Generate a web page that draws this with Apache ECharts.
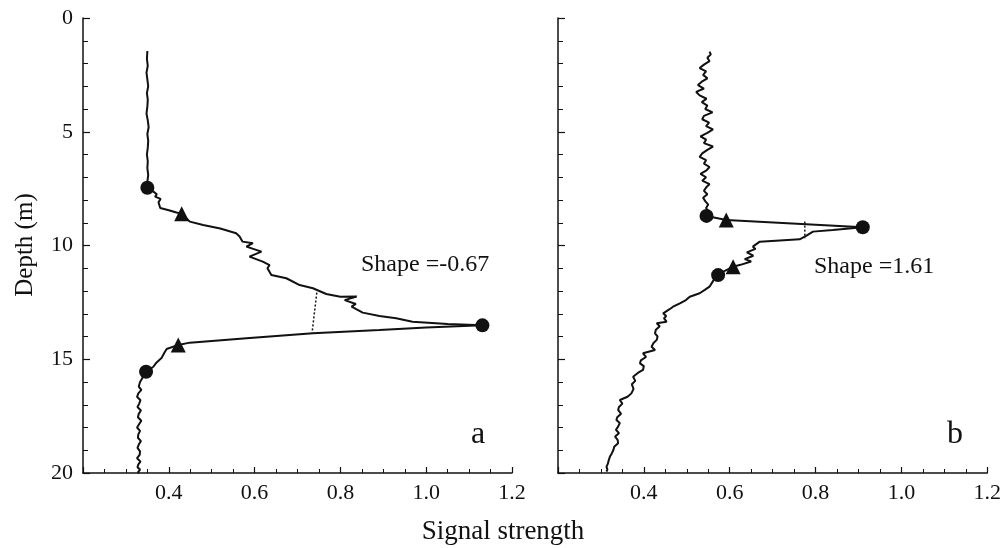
<!DOCTYPE html>
<html>
<head>
<meta charset="utf-8">
<script src="https://cdn.jsdelivr.net/npm/echarts@6/dist/echarts.min.js"></script>
<style>
html,body{margin:0;padding:0;background:#fff;}
#chart{width:1004px;height:548px;}
</style>
</head>
<body>
<div id="chart"></div>
<script>
// ---------- data ----------
var xTicks = [0.4, 0.6, 0.8, 1.0, 1.2];
var yTicks = [0, 5, 10, 15, 20];

// Panel a profile (signal strength vs depth)
var aSignal = [.350,.349,.351,.348,.350,.352,.349,.351,.350,.348,.351,.353,.350,.352,.351,.349,.351,.350,.352,.350,.350,
  .362,.372,.368,.381,.376,.380,.400,.418,.430,.449,.480,.520,.557,.565,.572,.596,.581,.616,.588,.619,.635,.630,.639,.674,.705,.736,.767,.800,.838,.810,.836,.826,.852,.891,.930,.968,1.050,1.131,
  1.000,.891,.736,.581,.449,.422,.395,.390,.383,.371,.364,.347,
  .333,.330,.336,.329,.326,.334,.331,.327,.335,.330,.328,.336,.331,.326,.333,.329,.328,.335,.330,.327,.333,.332,.326,.334,.329,.327,.333,.330,.328,.331,.330];
var aDepth = [1.45,1.8,2.1,2.4,2.7,3.0,3.3,3.6,3.9,4.2,4.5,4.8,5.1,5.4,5.7,6.0,6.3,6.6,6.9,7.2,7.46,
  7.6,7.75,7.85,7.95,8.1,8.35,8.45,8.55,8.6,8.95,9.1,9.25,9.46,9.6,9.83,9.9,10.05,10.27,10.49,10.71,10.86,11.0,11.3,11.44,11.74,11.88,12.13,12.25,12.24,12.4,12.57,12.69,12.95,13.1,13.2,13.35,13.45,13.51,
  13.6,13.71,13.86,14.08,14.27,14.37,14.55,14.7,14.95,15.15,15.33,15.55,
  16.0,16.2,16.35,16.5,16.65,16.8,16.95,17.1,17.25,17.4,17.55,17.7,17.85,18.0,18.15,18.3,18.45,18.6,18.75,18.9,19.05,19.2,19.35,19.5,19.62,19.75,19.85,19.92,19.97,20.0];

// Panel b profile
var bSignal = [.553,.556,.548,.553,.540,.530,.545,.538,.548,.535,.526,.540,.522,.530,.546,.535,.548,.543,.560,.540,.536,.552,.545,.561,.548,.532,.545,.540,.561,.548,.536,.530,.545,.540,.553,.546,.532,.545,.536,.553,.545,.540,.548,.538,.543,.550,.545,.550,.546,
  .592,.910,
  .840,.794,.778,.763,.670,.654,.660,.640,.655,.635,.650,.625,.608,.590,
  .573,.565,.560,.553,.542,.530,.507,.498,.484,.468,.460,.445,.452,.447,.453,.430,.437,.428,.426,.432,.430,.422,.418,.426,.398,.405,.393,.391,.400,.398,.386,.375,.380,.372,.376,.371,.362,.344,.350,.342,.340,.347,.338,.336,.344,.340,.335,.342,.333,.339,.340,.331,.329,.325,.321,.318,.316,.313,.315,.313];
var bDepth = [1.48,1.6,1.75,1.9,2.05,2.2,2.35,2.5,2.65,2.8,2.95,3.1,3.25,3.4,3.55,3.7,3.85,4.0,4.15,4.3,4.45,4.6,4.75,4.9,5.05,5.2,5.35,5.5,5.65,5.8,5.95,6.1,6.25,6.4,6.55,6.7,6.85,7.0,7.15,7.3,7.45,7.6,7.75,7.9,8.05,8.2,8.35,8.5,8.7,
  8.88,9.2,
  9.32,9.39,9.58,9.73,9.83,10.05,10.15,10.3,10.45,10.6,10.7,10.85,10.93,11.1,
  11.3,11.45,11.6,11.81,11.95,12.1,12.25,12.4,12.54,12.69,12.8,12.98,13.1,13.2,13.35,13.42,13.55,13.7,13.86,14.0,14.15,14.3,14.45,14.59,14.74,14.9,15.05,15.18,15.3,15.47,15.6,15.77,15.95,16.1,16.3,16.5,16.65,16.79,16.95,17.1,17.23,17.4,17.55,17.67,17.8,17.96,18.1,18.25,18.4,18.55,18.69,18.85,18.99,19.15,19.28,19.45,19.6,19.72,19.85,19.94];

// Marker points
var aCircleSignal = [.350, 1.131, .347];
var aCircleDepth  = [7.46, 13.51, 15.55];
var aTriSignal    = [.430, .422];
var aTriDepth     = [8.6, 14.37];
var bCircleSignal = [.546, .910, .573];
var bCircleDepth  = [8.70, 9.20, 11.30];
var bTriSignal    = [.592, .608];
var bTriDepth     = [8.88, 10.93];

// Dotted connectors
var aDotSignal = [.745, .734];
var aDotDepth  = [12.07, 13.83];
var bDotSignal = [.775, .775];
var bDotDepth  = [8.95, 9.68];

var shapeA = 'Shape =-0.67';
var shapeB = 'Shape =1.61';

// ---------- build ----------
function pairs(xs, ys){ return xs.map(function(v,i){ return [v, ys[i]]; }); }

var FONT = "'Liberation Serif', 'Times New Roman', serif";
var INK = '#111';

function xAxisDef(idx){
  return {
    type:'value', gridIndex: idx, min:0.2, max:1.2, interval:0.2, position:'bottom',
    axisLine:{show:true, onZero:false, lineStyle:{color:INK, width:1.5}},
    axisTick:{show:true, inside:true, length:6, lineStyle:{color:INK, width:1.2}},
    minorTick:{show:true, splitNumber:4, length:4, lineStyle:{color:INK, width:1}},
    splitLine:{show:false}, minorSplitLine:{show:false},
    axisLabel:{show:true, margin:9, color:INK, fontFamily:FONT, fontSize:22,
      formatter:function(v){ return (xTicks.some(function(t){return Math.abs(t-v)<1e-6;})) ? v.toFixed(1) : ''; }}
  };
}
function yAxisDef(idx, showLabel){
  return {
    type:'value', gridIndex: idx, min:0, max:20, interval:5, inverse:true, position:'left',
    axisLine:{show:true, onZero:false, lineStyle:{color:INK, width:1.5}},
    axisTick:{show:true, inside:true, length:7, lineStyle:{color:INK, width:1.2}},
    minorTick:{show:true, splitNumber:5, length:5, lineStyle:{color:INK, width:1}},
    splitLine:{show:false}, minorSplitLine:{show:false},
    axisLabel:{show:showLabel, margin:10, color:INK, fontFamily:FONT, fontSize:22,
      formatter:function(v){ return yTicks.indexOf(v) >= 0 ? String(v) : ''; }}
  };
}
function profile(xi, xs, ys){
  return {type:'line', xAxisIndex:xi, yAxisIndex:xi, data:pairs(xs, ys), showSymbol:false,
    lineStyle:{color:INK, width:2}, z:3, silent:true, animation:false};
}
function dotted(xi, xs, ys){
  return {type:'line', xAxisIndex:xi, yAxisIndex:xi, data:pairs(xs, ys), showSymbol:false,
    lineStyle:{color:INK, width:1.5, type:[2,2]}, z:2, silent:true, animation:false};
}
function marks(xi, xs, ys, sym, size){
  return {type:'scatter', xAxisIndex:xi, yAxisIndex:xi, data:pairs(xs, ys), symbol:sym, symbolSize:size,
    itemStyle:{color:INK, opacity:1}, z:5, silent:true, animation:false};
}

var chart = echarts.init(document.getElementById('chart'), null, {renderer:'canvas'});
chart.setOption({
  backgroundColor:'#fff',
  animation:false,
  grid:[
    {left:83, top:18, width:429, height:455},
    {left:558, top:18, width:430, height:455}
  ],
  xAxis:[xAxisDef(0), xAxisDef(1)],
  yAxis:[yAxisDef(0, true), yAxisDef(1, false)],
  series:[
    profile(0, aSignal, aDepth),
    dotted(0, aDotSignal, aDotDepth),
    marks(0, aCircleSignal, aCircleDepth, 'circle', 14),
    marks(0, aTriSignal, aTriDepth, 'triangle', 15),
    profile(1, bSignal, bDepth),
    dotted(1, bDotSignal, bDotDepth),
    marks(1, bCircleSignal, bCircleDepth, 'circle', 14),
    marks(1, bTriSignal, bTriDepth, 'triangle', 15)
  ],
  graphic:[
    {type:'text', x:25, y:245, rotation:Math.PI/2,
      style:{text:'Depth (m)', fill:INK, font:"25px "+FONT, textAlign:'center', textVerticalAlign:'middle'}},
    {type:'text', x:503, y:532,
      style:{text:'Signal strength', fill:INK, font:"27px "+FONT, textAlign:'center', textVerticalAlign:'middle'}},
    {type:'text', x:361, y:265,
      style:{text:shapeA, fill:INK, font:"24px "+FONT, textAlign:'left', textVerticalAlign:'middle'}},
    {type:'text', x:814, y:267,
      style:{text:shapeB, fill:INK, font:"24px "+FONT, textAlign:'left', textVerticalAlign:'middle'}},
    {type:'text', x:478, y:435,
      style:{text:'a', fill:INK, font:"32px "+FONT, textAlign:'center', textVerticalAlign:'middle'}},
    {type:'text', x:955, y:435,
      style:{text:'b', fill:INK, font:"32px "+FONT, textAlign:'center', textVerticalAlign:'middle'}}
  ]
});
</script>
</body>
</html>
